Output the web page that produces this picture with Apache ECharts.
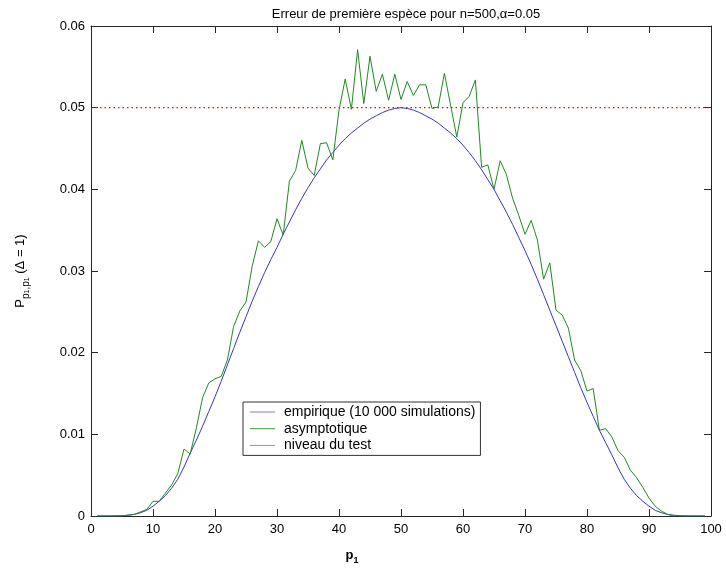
<!DOCTYPE html>
<html><head><meta charset="utf-8">
<script src="https://cdn.jsdelivr.net/npm/echarts@6.0.0/dist/echarts.min.js"></script>
<style>html,body{margin:0;padding:0;background:#fff}#c{width:726px;height:572px}</style>
</head><body><div id="c"></div><script>
const p1Values = [1,2,3,4,5,6,7,8,9,10,11,12,13,14,15,16,17,18,19,20,21,22,23,24,25,26,27,28,29,30,31,32,33,34,35,36,37,38,39,40,41,42,43,44,45,46,47,48,49,50,51,52,53,54,55,56,57,58,59,60,61,62,63,64,65,66,67,68,69,70,71,72,73,74,75,76,77,78,79,80,81,82,83,84,85,86,87,88,89,90,91,92,93,94,95,96,97,98,99];
const empirique = [0,0,0,0.00001,0.00003,0.0001,0.0002,0.0004,0.0007,0.0012,0.0018,0.0025,0.0034,0.0045,0.0060,0.0077,0.0093,0.0110,0.0128,0.0146,0.0165,0.0185,0.0205,0.0225,0.0244,0.0263,0.0281,0.0298,0.0314,0.0329,0.0345,0.0360,0.0375,0.0389,0.0402,0.0414,0.0425,0.0436,0.0445,0.0454,0.0462,0.0469,0.0475,0.0481,0.0486,0.0490,0.0494,0.0497,0.0499,0.0500,0.0499,0.0497,0.0494,0.0490,0.0486,0.0481,0.0475,0.0469,0.0462,0.0454,0.0445,0.0435,0.0424,0.0412,0.0400,0.0386,0.0372,0.0357,0.0341,0.0325,0.0308,0.0290,0.0271,0.0252,0.0233,0.0214,0.0195,0.0176,0.0157,0.0139,0.0122,0.0105,0.0090,0.0075,0.0059,0.0045,0.0034,0.0025,0.0018,0.0012,0.0007,0.0004,0.0002,0.0001,0.00003,0.00001,0,0,0];
const asymptotique = [0,0,0,0,0,0.0001,0.0002,0.0005,0.0008,0.0018,0.0018,0.0028,0.0038,0.0052,0.0082,0.0076,0.0108,0.0145,0.0163,0.0168,0.0171,0.0191,0.0232,0.0251,0.0262,0.0306,0.0337,0.0329,0.0336,0.0364,0.0344,0.0410,0.0423,0.0460,0.0426,0.0417,0.0456,0.0457,0.0436,0.0497,0.0535,0.0498,0.0571,0.0505,0.0563,0.0520,0.0541,0.0509,0.0541,0.0510,0.0532,0.0515,0.0528,0.0528,0.0499,0.0501,0.0542,0.0503,0.0464,0.0506,0.0514,0.0534,0.0427,0.0430,0.0400,0.0435,0.0418,0.0389,0.0368,0.0345,0.0362,0.0338,0.0290,0.0310,0.0252,0.0246,0.0230,0.0191,0.0178,0.0153,0.0156,0.0105,0.0107,0.0097,0.0080,0.0072,0.0056,0.0047,0.0035,0.0022,0.0012,0.0006,0.0002,0,0,0,0,0,0];
const niveauX = [0, 100];
const niveauY = [0.05, 0.05];
const seriesNames = ['empirique (10 000 simulations)', 'asymptotique', 'niveau du test'];

const FONT = 'Liberation Sans, Arial, Helvetica, sans-serif';
const chart = echarts.init(document.getElementById('c'), null, {renderer: 'canvas'});
const axisCommon = {
  axisLine: {show: true, onZero: false, lineStyle: {color: '#262626', width: 1}},
  axisTick: {show: true, inside: true, length: 7, lineStyle: {color: '#262626'}},
  splitLine: {show: false},
  axisLabel: {color: '#000', fontSize: 13, fontFamily: FONT}
};
chart.setOption({
  animation: false,
  backgroundColor: '#fff',
  title: [
    {text: 'Erreur de première espèce pour n=500,\u03b1=0.05', left: 401, top: 3, textAlign: 'center',
     textStyle: {fontSize: 13, fontWeight: 'normal', color: '#000', fontFamily: FONT}},
    {text: '{m|p}{s|1}', left: 347, top: 540, textAlign: 'center',
     textStyle: {rich: {
       m: {fontSize: 13, color: '#000', fontFamily: FONT, lineHeight: 20, verticalAlign: 'middle'},
       s: {fontSize: 9, color: '#000', fontFamily: FONT, lineHeight: 11, verticalAlign: 'bottom'}
     }}}
  ],
  grid: {left: 91, right: 15, top: 26, bottom: 56, containLabel: false},
  legend: {
    orient: 'vertical', left: 243, top: 402,
    backgroundColor: '#fff', borderColor: '#333', borderWidth: 1,
    padding: [3, 5, 3, 7], itemGap: 2.7, itemWidth: 25, itemHeight: 1,
    textStyle: {fontSize: 14, fontFamily: FONT, color: '#000', lineHeight: 14, padding: [0, 0, 0, 4]},
    data: [
      {name: seriesNames[0], icon: 'rect', itemStyle: {color: '#7a7ae8'}},
      {name: seriesNames[1], icon: 'rect', itemStyle: {color: '#3d9a3d'}},
      {name: seriesNames[2], icon: 'rect', itemStyle: {color: '#e07a7a'}}
    ]
  },
  xAxis: [
    Object.assign({type: 'value', min: 0, max: 100, interval: 10, position: 'bottom'}, axisCommon,
      {axisLabel: Object.assign({}, axisCommon.axisLabel, {margin: 7})}),
    Object.assign({type: 'value', min: 0, max: 100, interval: 10, position: 'top'}, axisCommon,
      {axisLabel: {show: false}})
  ],
  yAxis: [
    Object.assign({type: 'value', min: 0, max: 0.06, interval: 0.01, position: 'left'}, axisCommon,
      {axisLabel: Object.assign({}, axisCommon.axisLabel, {margin: 6}),
       name: '{m|P}{s|p}{ss|1}{s|,p}{ss|1}{m| (\u0394 = 1)}',
       nameLocation: 'middle', nameRotate: 90, nameGap: 60,
       nameTextStyle: {rich: {
         m: {fontSize: 13, color: '#000', fontFamily: FONT, lineHeight: 22, verticalAlign: 'middle'},
         s: {fontSize: 10, color: '#000', fontFamily: FONT, lineHeight: 13, verticalAlign: 'bottom'},
         ss: {fontSize: 7, color: '#000', fontFamily: FONT, lineHeight: 8, verticalAlign: 'bottom'}
       }}}),
    Object.assign({type: 'value', min: 0, max: 0.06, interval: 0.01, position: 'right'}, axisCommon,
      {axisLabel: {show: false}})
  ],
  series: [
    {name: seriesNames[0], type: 'line', xAxisIndex: 0, yAxisIndex: 0, symbol: 'none',
     lineStyle: {color: '#3434d6', width: 1}, itemStyle: {color: '#3434d6'},
     data: p1Values.map((x, i) => [x, empirique[i]])},
    {name: seriesNames[1], type: 'line', xAxisIndex: 0, yAxisIndex: 0, symbol: 'none',
     lineStyle: {color: '#1f8a1f', width: 1}, itemStyle: {color: '#1f8a1f'},
     data: p1Values.map((x, i) => [x, asymptotique[i]])},
    {name: seriesNames[2], type: 'line', xAxisIndex: 0, yAxisIndex: 0, symbol: 'none', z: 1,
     lineStyle: {color: '#ff0000', width: 1.2, type: [1.5, 3]}, itemStyle: {color: '#ff0000'},
     data: niveauX.map((x, i) => [x, niveauY[i]])}
  ]
});
</script></body></html>
